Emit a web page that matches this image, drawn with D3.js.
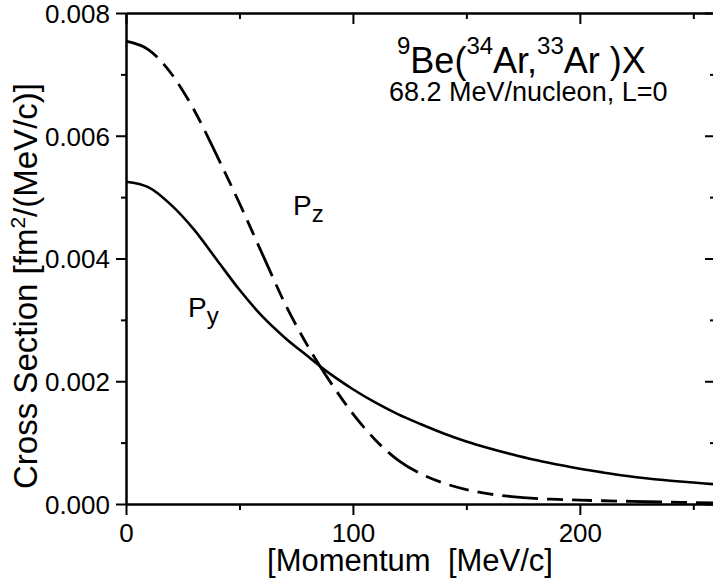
<!DOCTYPE html>
<html>
<head>
<meta charset="utf-8">
<script src="https://cdn.jsdelivr.net/npm/d3@7/dist/d3.min.js"></script>
<style>
  html, body { margin: 0; padding: 0; background: #fff; }
  svg { display: block; }
  text { font-family: "Liberation Sans", Arial, Helvetica, sans-serif; fill: #000; }
</style>
</head>
<body>
<svg id="chart" width="713" height="579"></svg>
<script>
// ---- data ----
const momentum = [0, 10, 20, 30, 40, 50, 60, 70, 80, 90, 100, 110, 120, 130, 140, 150, 160, 170, 180, 190, 200, 210, 220, 230, 240, 250, 260];
const py = [0.00525, 0.00516, 0.00487, 0.00447, 0.00398, 0.00349, 0.00306, 0.00271, 0.00241, 0.00212, 0.00187, 0.00165, 0.00146, 0.00130, 0.00115, 0.00102, 0.00091, 0.00081, 0.00072, 0.000645, 0.000575, 0.000515, 0.00046, 0.000415, 0.00038, 0.00035, 0.00032];
const pz = [0.00754, 0.00740, 0.00701, 0.00642, 0.00568, 0.00490, 0.00408, 0.00327, 0.00258, 0.00199, 0.00147, 0.00104, 0.00071, 0.00049, 0.00034, 0.000235, 0.000165, 0.00012, 0.00009, 0.000075, 0.000062, 0.000053, 0.000045, 0.000037, 0.00003, 0.000022, 0.000015];
const yMajorTicks = [0, 0.002, 0.004, 0.006, 0.008];
const yMinorTicks = [0.001, 0.003, 0.005, 0.007];
const xMajorTicks = [0, 100, 200];
const xMinorTicks = [50, 150, 250];
const xDomain = [0, 260];
const yDomain = [0, 0.008];

// ---- layout ----
const svg = d3.select("#chart");
const mLeft = 126, mRight = 716, mTop = 13, mBottom = 504;
const x = d3.scaleLinear().domain(xDomain).range([mLeft, mRight]);
const y = d3.scaleLinear().domain(yDomain).range([mBottom, mTop]);

function styleAxis(g) {
  g.selectAll("path.domain").attr("stroke", "#000").attr("stroke-width", 2);
  g.selectAll(".tick line").attr("stroke", "#000").attr("stroke-width", 2);
}
function styleText(g) {
  g.selectAll("text").attr("font-size", 26).attr("fill", "#000")
    .style("font-family", "Liberation Sans, Arial, sans-serif");
}

// bottom axis
svg.append("g").attr("transform", `translate(0,${mBottom})`)
  .call(d3.axisBottom(x).tickValues(xMajorTicks).tickSize(11).tickSizeOuter(0).tickPadding(9).tickFormat(d3.format("d")))
  .call(g => { styleAxis(g); styleText(g); });
svg.append("g").attr("transform", `translate(0,${mBottom})`)
  .call(d3.axisBottom(x).tickValues(xMinorTicks).tickSize(6).tickSizeOuter(0).tickFormat(""))
  .call(styleAxis);
// top axis (ticks inward)
svg.append("g").attr("transform", `translate(0,${mTop})`)
  .call(d3.axisTop(x).tickValues(xMajorTicks).tickSize(-11).tickSizeOuter(0).tickFormat(""))
  .call(styleAxis);
svg.append("g").attr("transform", `translate(0,${mTop})`)
  .call(d3.axisTop(x).tickValues(xMinorTicks).tickSize(-6).tickSizeOuter(0).tickFormat(""))
  .call(styleAxis);
// left axis
svg.append("g").attr("transform", `translate(${mLeft},0)`)
  .call(d3.axisLeft(y).tickValues(yMajorTicks).tickSize(10).tickSizeOuter(0).tickPadding(6).tickFormat(d3.format(".3f")))
  .call(g => { styleAxis(g); styleText(g); g.selectAll("text").attr("dy", "0.36em"); });
svg.append("g").attr("transform", `translate(${mLeft},0)`)
  .call(d3.axisLeft(y).tickValues(yMinorTicks).tickSize(5).tickSizeOuter(0).tickFormat(""))
  .call(styleAxis);
// right axis (ticks inward)
svg.append("g").attr("transform", `translate(${mRight},0)`)
  .call(d3.axisRight(y).tickValues(yMajorTicks).tickSize(-11).tickSizeOuter(0).tickFormat(""))
  .call(styleAxis);
svg.append("g").attr("transform", `translate(${mRight},0)`)
  .call(d3.axisRight(y).tickValues(yMinorTicks).tickSize(-6).tickSizeOuter(0).tickFormat(""))
  .call(styleAxis);

// ---- curves ----
const line = d3.line().x(d => x(d[0])).y(d => y(d[1])).curve(d3.curveMonotoneX);
svg.append("path").datum(momentum.map((m, i) => [m, py[i]]))
  .attr("d", line).attr("fill", "none").attr("stroke", "#000").attr("stroke-width", 2.6);
svg.append("path").datum(momentum.map((m, i) => [m, pz[i]]))
  .attr("d", line).attr("fill", "none").attr("stroke", "#000").attr("stroke-width", 2.8)
  .attr("stroke-dasharray", "36,9,16,9,20,9,16,9");

// ---- labels ----
const pzLab = svg.append("text").attr("x", 293).attr("y", 215).attr("font-size", 28);
pzLab.append("tspan").text("P");
pzLab.append("tspan").attr("font-size", 24).attr("dy", 7).text("z");
const pyLab = svg.append("text").attr("x", 188).attr("y", 317).attr("font-size", 28);
pyLab.append("tspan").text("P");
pyLab.append("tspan").attr("font-size", 24).attr("dy", 7).text("y");

const title = svg.append("text").attr("x", 397).attr("y", 73).attr("font-size", 36);
const parts = [["9", true], ["Be(", false], ["34", true], ["Ar,", false], ["33", true], ["Ar )X", false]];
parts.forEach(([t, sup], i) => {
  title.append("tspan").attr("font-size", sup ? 24 : 36).attr("dy", i === 0 ? -19 : (sup ? -19 : 19))
    .style("white-space", "pre").text(t);
});
svg.append("text").attr("x", 389).attr("y", 101).attr("font-size", 27).text("68.2 MeV/nucleon, L=0");

// axis titles
svg.append("text").attr("x", 410).attr("y", 571).attr("font-size", 31).attr("text-anchor", "middle")
  .style("white-space", "pre").text("[Momentum  [MeV/c]");
const yl = svg.append("text").attr("transform", "translate(37,286) rotate(-90)").attr("text-anchor", "middle").attr("font-size", 33);
yl.append("tspan").text("Cross Section [fm");
yl.append("tspan").attr("font-size", 21).attr("dy", -12).text("2");
yl.append("tspan").attr("dy", 12).text("/(MeV/c)]");
</script>
</body>
</html>
